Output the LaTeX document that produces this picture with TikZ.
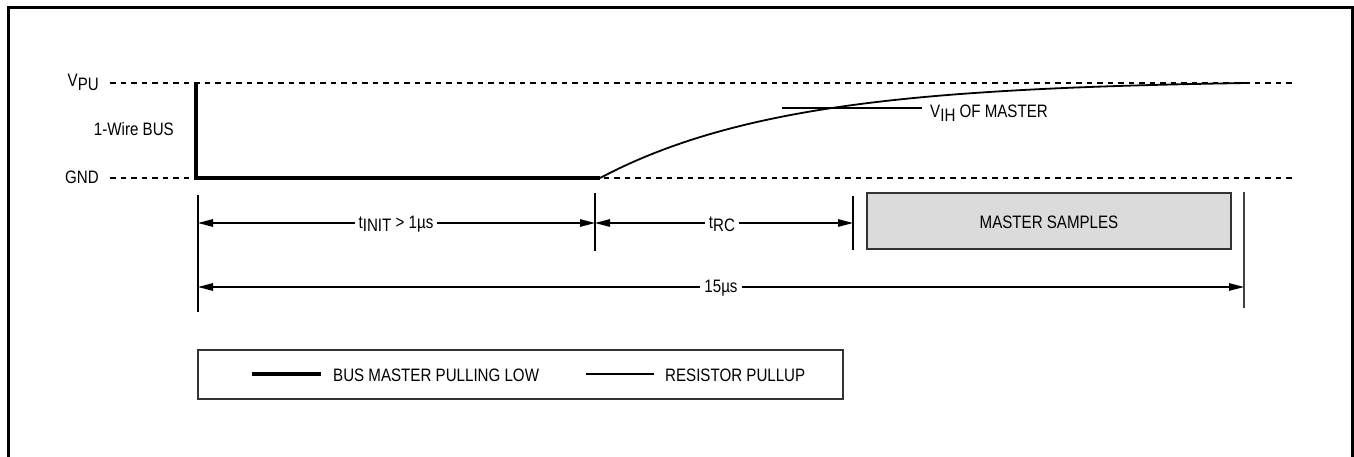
\documentclass[tikz,border=0pt]{standalone}
\usepackage{fontspec}
\setmainfont{Liberation Sans}[FakeStretch=0.84]
\usetikzlibrary{arrows.meta}
\newcommand{\lowsub}[1]{\raisebox{-0.2em}{#1}}
\begin{document}
\begin{tikzpicture}[x=1pt,y=-1pt,
  lbl/.style={font=\fontsize{18}{20}\selectfont, inner sep=0pt},
  leg/.style={font=\fontsize{18}{20}\selectfont, inner sep=0pt},
  dimlab/.style={font=\fontsize{18}{20}\selectfont, fill=white, inner xsep=4pt, inner ysep=1pt},
  tip/.tip={Triangle[length=15pt,width=7.5pt]},
  dimarrow/.style={line width=1.2pt, tip-tip},
  refline/.style={line width=1.1pt, dash pattern=on 5.5pt off 5pt},
  tick/.style={line width=1.2pt},
  bus/.style={line width=4pt, line cap=butt, line join=miter},
  pullup/.style={line width=1.8pt},
]
\useasboundingbox (0,0) rectangle (1354,457);
% frame (open at the bottom)
\draw[line width=3pt] (8,457) -- (8,8) -- (1352,8) -- (1352,457);

% reference levels
\coordinate (vpuL) at (110,83);  \coordinate (vpuR) at (1295,83);
\coordinate (gndL) at (110,178); \coordinate (gndR) at (1295,178);
\draw[refline] (vpuL) -- (vpuR);
\draw[refline] (gndL) -- (gndR);

\node[lbl, anchor=base east] (vpu) at (99,87) {V\lowsub{PU}};
\node[lbl, anchor=base east] (gnd) at (99,184) {GND};
\node[lbl, anchor=base east] (bus) at (174,136) {1-Wire BUS};

% signal
\coordinate (s0) at (196,83);
\coordinate (s1) at (196,178);
\coordinate (s2) at (600,178);
\draw[bus] (s0) -- (s1) -- (s2);
\draw[pullup] plot[domain=600:1247, samples=120, smooth]
  (\x, {178-95*(1-exp(-(\x-600)/185))/(1-exp(-647/185))});

% V_IH marker
\coordinate (vih0) at (782,108);
\coordinate (vih1) at (922,108);
\draw[line width=1.1pt] (vih0) -- (vih1);
\node[lbl, anchor=base west] (vih) at (930,118) {V\lowsub{IH} OF MASTER};

% ticks
\coordinate (k0a) at (198,195);  \coordinate (k0b) at (198,312);
\coordinate (k1a) at (595,193);  \coordinate (k1b) at (595,251);
\coordinate (k2a) at (853,196);  \coordinate (k2b) at (853,250);
\coordinate (k3a) at (1244,192); \coordinate (k3b) at (1244,308);
\draw[tick] (k0a) -- (k0b);
\draw[tick] (k1a) -- (k1b);
\draw[line width=2pt] (k2a) -- (k2b);
\draw[tick, draw=black!75] (k3a) -- (k3b);

% dimension arrows
\coordinate (t0) at (198,223); \coordinate (t1) at (595,223); \coordinate (t2) at (853,223);
\coordinate (u0) at (198,287); \coordinate (u3) at (1244,287);
\draw[dimarrow] (t0) -- (t1);
\draw[dimarrow] (t1) -- (t2);
\draw[dimarrow] (u0) -- (u3);
\node[dimlab, anchor=base] (tinit) at (396,228) {t\lowsub{INIT} > 1µs};
\node[dimlab, anchor=base] (trc) at (722,228) {t\lowsub{RC}};
\node[dimlab, anchor=base] (t15) at (721,292) {15µs};

% master samples
\node[draw=black!80, line width=1.2pt, fill=black!14, minimum width=364pt, minimum height=56pt, inner sep=0pt] (ms) at (1049,221) {};
\node[lbl, anchor=base] (mst) at (1049,228) {MASTER SAMPLES};

% legend
\node[draw=black!80, line width=1.5pt, minimum width=645pt, minimum height=49pt, inner sep=0pt] (legend) at (520.5,374.5) {};
\coordinate (la) at (252,374); \coordinate (lb) at (321,374);
\coordinate (lc) at (586,374); \coordinate (ld) at (654,374);
\draw[line width=4.3pt] (la) -- (lb);
\draw[line width=1.3pt] (lc) -- (ld);
\node[leg, anchor=base west] (legbus) at (333,381) {BUS MASTER PULLING LOW};
\node[leg, anchor=base west] (legres) at (665,381) {RESISTOR PULLUP};
\end{tikzpicture}
\end{document}
